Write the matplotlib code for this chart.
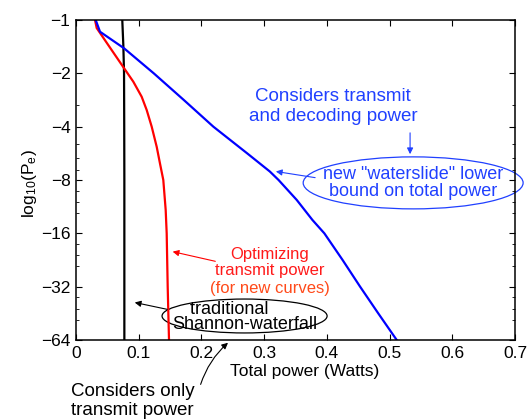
import matplotlib
matplotlib.use("Agg")
import matplotlib.pyplot as plt
from matplotlib.patches import Ellipse
from matplotlib.ticker import FixedLocator, FixedFormatter, NullFormatter

plt.rcParams['font.family'] = ['Liberation Sans', 'DejaVu Sans']
plt.rcParams['mathtext.default'] = 'regular'

# -log10(Pe) and total power (W) for each curve
shannon_nlp = [1, 1.4, 2, 4, 8, 16, 32, 64]
shannon_pw = [0.0738, 0.0755, 0.0766, 0.0769, 0.0771, 0.0771, 0.0771, 0.0771]

opt_nlp = [1, 1.11, 1.44, 1.87, 2.23, 2.71, 3.22, 4, 5.2, 6.45, 8, 11.8, 16, 32, 64]
opt_pw = [0.0303, 0.033, 0.0547, 0.0766, 0.0914, 0.1047, 0.1127, 0.1207,
          0.1287, 0.1339, 0.1392, 0.1430, 0.1446, 0.1462, 0.1483]

total_nlp = [1, 1.165, 1.444, 2, 2.83, 4, 5.66, 7.16, 8, 10.37, 13.45, 16,
             22.6, 32, 45.3, 64]
total_pw = [0.0314, 0.0383, 0.0766, 0.124, 0.172, 0.219, 0.273, 0.309, 0.323,
            0.352, 0.377, 0.396, 0.425, 0.453, 0.482, 0.5114]

yticks = [1, 2, 4, 8, 16, 32, 64]
ytick_labels = ['\u2212' + str(v) for v in yticks]
xticks = [0, 0.1, 0.2, 0.3, 0.4, 0.5, 0.6, 0.7]
xtick_labels = ['0', '0.1', '0.2', '0.3', '0.4', '0.5', '0.6', '0.7']

fig = plt.figure(figsize=(5.27, 4.2), dpi=100)
ax = fig.add_axes([76/527, 80/420, 439/527, 320/420])

ax.plot(shannon_pw, shannon_nlp, color='black', lw=1.6)
ax.plot(opt_pw, opt_nlp, color='red', lw=1.6)
ax.plot(total_pw, total_nlp, color='blue', lw=1.6)

ax.set_yscale('log', base=2)
ax.set_ylim(64, 1)
ax.set_xlim(0, 0.7)

ax.yaxis.set_major_locator(FixedLocator(yticks))
ax.yaxis.set_major_formatter(FixedFormatter(ytick_labels))
minors = [3, 5, 6, 7] + [b * 2**f for b in (8, 16, 32) for f in (0.2, 0.41, 0.62)]
ax.yaxis.set_minor_locator(FixedLocator(minors))
ax.yaxis.set_minor_formatter(NullFormatter())
ax.set_xticks(xticks)
ax.set_xticklabels(xtick_labels)

ax.tick_params(which='both', direction='in', top=True, right=True, labelsize=12.5)
ax.tick_params(which='major', length=4, width=0.8, pad=4)
ax.tick_params(which='minor', length=2.2, width=0.6)
for s in ax.spines.values():
    s.set_linewidth(1.1)

ax.set_xlabel('Total power (Watts)', fontsize=12.5)
ax.xaxis.set_label_coords(0.52, -0.075)
ax.set_ylabel('log$_{10}$(P$_e$)', fontsize=12.5)
ax.yaxis.set_label_coords(-0.085, 0.49)

blue_t = '#2040ff'
ax.text(0.585, 0.73, 'Considers transmit\nand decoding power', transform=ax.transAxes,
        ha='center', va='center', color=blue_t, fontsize=13.5, linespacing=1.2)
ax.annotate('', xy=(0.761, 0.572), xytext=(0.761, 0.656), xycoords='axes fraction',
            arrowprops=dict(arrowstyle='-|>', color=blue_t, lw=0.8, mutation_scale=9))
ax.add_patch(Ellipse((0.768, 0.491), 0.501, 0.1625, transform=ax.transAxes,
                     fill=False, ec=blue_t, lw=0.9, clip_on=False))
ax.text(0.768, 0.491, 'new "waterslide" lower\nbound on total power', transform=ax.transAxes,
        ha='center', va='center', color=blue_t, fontsize=13, linespacing=1.0)
ax.annotate('', xy=(0.449, 0.528), xytext=(0.551, 0.506), xycoords='axes fraction',
            arrowprops=dict(arrowstyle='-|>', color=blue_t, lw=0.8, mutation_scale=9))

ax.text(0.442, 0.242, 'Optimizing\ntransmit power', transform=ax.transAxes,
        ha='center', va='center', color='#ff1a1a', fontsize=12, linespacing=1.1)
ax.text(0.442, 0.1625, '(for new curves)', transform=ax.transAxes,
        ha='center', va='center', color='#ff4a1a', fontsize=12)
ax.annotate('', xy=(0.214, 0.278), xytext=(0.3235, 0.244), xycoords='axes fraction',
            arrowprops=dict(arrowstyle='-|>', color='red', lw=0.8, mutation_scale=9))

ax.add_patch(Ellipse((0.384, 0.075), 0.376, 0.106, transform=ax.transAxes,
                     fill=False, ec='black', lw=0.9, clip_on=False))
ax.text(0.384, 0.072, 'traditional      \nShannon-waterfall', transform=ax.transAxes,
        ha='center', va='center', multialignment='center', fontsize=13,
        linespacing=0.78)
ax.annotate('', xy=(0.1276, 0.119), xytext=(0.214, 0.094), xycoords='axes fraction',
            arrowprops=dict(arrowstyle='-|>', color='black', lw=0.8, mutation_scale=9))

ax.text(0.129, -0.19, 'Considers only\ntransmit power', transform=ax.transAxes,
        ha='center', va='center', fontsize=13.5, linespacing=1.15)
ax.annotate('', xy=(0.351, -0.003), xytext=(0.282, -0.147), xycoords='axes fraction',
            annotation_clip=False,
            arrowprops=dict(arrowstyle='-|>', color='black', lw=0.8, mutation_scale=9,
                            connectionstyle='arc3,rad=-0.15'))

fig.savefig('out.png', dpi=100)
